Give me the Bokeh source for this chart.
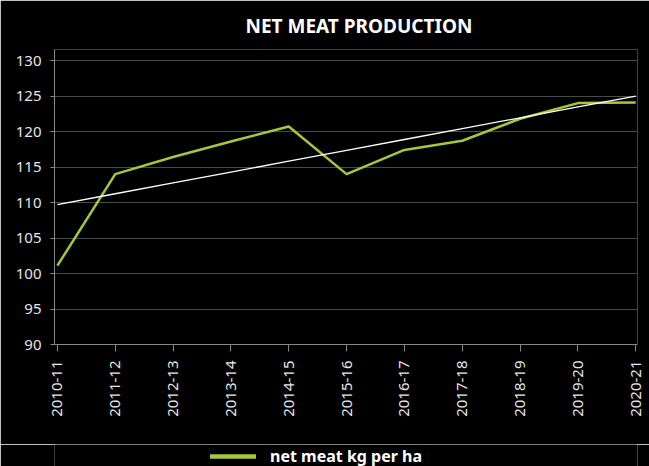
import numpy as np
from bokeh.plotting import figure
from bokeh.layouts import column
from bokeh.models import FixedTicker, Legend, LegendItem, Range1d
from bokeh.embed import file_html
from bokeh.resources import INLINE

seasons = ["2010-11", "2011-12", "2012-13", "2013-14", "2014-15", "2015-16",
           "2016-17", "2017-18", "2018-19", "2019-20", "2020-21"]
net_meat = [101.1, 114.0, 116.4, 118.6, 120.7, 114.0, 117.4, 118.7, 121.8, 124.0, 124.1]
y_ticks = [90, 95, 100, 105, 110, 115, 120, 125, 130]
series_name = "net meat kg per ha"
title_text = "NET MEAT PRODUCTION"

x = list(range(len(seasons)))
coef = np.polyfit(x, net_meat, 1)
trend = list(np.polyval(coef, x))

FONT = "Noto Sans"
GREEN = "#a6c73a"
p = figure(width=649, height=444, output_backend="svg", toolbar_location=None,
           x_range=Range1d(-0.05, 10.03), y_range=Range1d(90, 131.55),
           background_fill_color="black", border_fill_color="black",
           min_border_left=54, min_border_right=12, min_border_top=49, min_border_bottom=100)
p.outline_line_color = None

p.title.text = title_text
p.title.text_color = "white"
p.title.text_font = FONT
p.title.text_font_size = "19px"
p.title.text_font_style = "bold"
p.title.align = "left"
p.title.offset = 191
p.title.standoff = 21

p.line(x, net_meat, line_color=GREEN, line_width=2.5)
p.line(x, trend, line_color="white", line_width=1.3)

p.xaxis.ticker = FixedTicker(ticks=x)
p.xaxis.major_label_overrides = {i: s for i, s in enumerate(seasons)}
p.xaxis.major_label_orientation = np.pi / 2
p.yaxis.ticker = FixedTicker(ticks=y_ticks)
for ax in (p.xaxis, p.yaxis):
    ax.axis_line_color = "#888888"
    ax.major_tick_line_color = "#888888"
    ax.minor_tick_line_color = None
    ax.major_label_text_color = "#e6e6e6"
    ax.major_label_text_font = FONT
    ax.major_label_text_font_size = "15px"
p.yaxis.major_tick_out = 4
p.yaxis.major_tick_in = 0
p.yaxis.major_label_standoff = 9
p.xaxis.major_tick_out = 7
p.xaxis.major_tick_in = 0
p.xaxis.major_label_standoff = 9

p.xgrid.grid_line_color = None
p.ygrid.grid_line_color = "#4a4a4a"

# legend strip below the chart (its line lies outside the strip's ranges, only the key shows)
lg = figure(width=649, height=22, output_backend="svg", toolbar_location=None,
            x_axis_location=None, y_axis_location=None,
            background_fill_color="black", border_fill_color="black",
            min_border_left=54, min_border_right=12, min_border_top=0, min_border_bottom=0,
            x_range=Range1d(0, 1), y_range=Range1d(0, 1))
lg.outline_line_color = None
lg.xgrid.grid_line_color = None
lg.ygrid.grid_line_color = None
key = lg.line(x, net_meat, line_color=GREEN, line_width=4.5, line_cap="round")
legend = Legend(items=[LegendItem(label=series_name, renderers=[key])],
                orientation="horizontal", location=(156, -1),
                background_fill_alpha=0, border_line_color=None,
                label_text_color="white", label_text_font=FONT,
                label_text_font_size="16px", label_text_font_style="bold",
                glyph_width=46, label_standoff=14, margin=0, padding=2)
lg.add_layout(legend, "center")

layout = column(p, lg, spacing=0)
open("out.html", "w").write(file_html(layout, INLINE))
